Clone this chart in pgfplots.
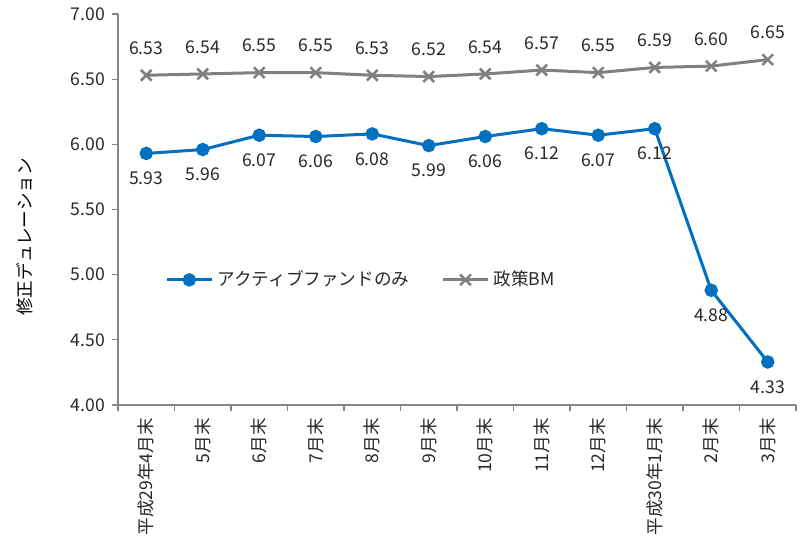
\documentclass[border=0pt]{standalone}
\usepackage{pgfplots}
\pgfplotsset{compat=1.18}
\usepackage{fontspec}
\setmainfont{Noto Sans CJK JP}
\definecolor{sblue}{RGB}{0,112,192}
\definecolor{sgray}{RGB}{128,128,128}
\definecolor{axgray}{RGB}{134,134,134}
\definecolor{txt}{RGB}{40,40,40}
\begin{document}
\begin{tikzpicture}
\begin{axis}[
  scale only axis, width=339pt, height=195.5pt,
  xmin=-0.5, xmax=11.5, ymin=4, ymax=7,
  axis x line*=bottom, axis y line*=left,
  axis line style={axgray, line width=0.6pt, -},
  tick align=outside,
  every tick/.style={axgray, line width=0.6pt},
  major tick length=3pt, minor tick length=3pt,
  ytick={4,4.5,5,5.5,6,6.5,7},
  yticklabel style={/pgf/number format/.cd, fixed, fixed zerofill, precision=2},
  /pgf/number format/assume math mode=true,
  xtick={0,...,11},
  xticklabels={平成29年4月末,5月末,6月末,7月末,8月末,9月末,10月末,11月末,12月末,平成30年1月末,2月末,3月末},
  xticklabel style={rotate=90, anchor=east},
  major x tick style={draw=none},
  minor xtick={-0.5,0.5,...,11.5},
  tick label style={font=\fontsize{8.8}{10}\selectfont, text=txt},
  ylabel={修正デュレーション},
  ylabel style={font=\fontsize{8.8}{10}\selectfont, text=black, at={(axis description cs:-0.115,0.43)}, anchor=south},
  nodes near coords={\pgfmathprintnumber[fixed,fixed zerofill,precision=2]{\pgfplotspointmeta}},
  legend style={at={(axis cs:0.22,4.96)}, anchor=west, draw=none, fill=none,
    font=\fontsize{8.8}{10}\selectfont, text=txt,
    /tikz/every even column/.append style={column sep=14pt}},
  legend columns=2,
  legend image code/.code={\draw[mark repeat=2,mark phase=2] plot coordinates {(0cm,0cm) (0.4cm,0cm) (0.8cm,0cm)};},
  clip=false,
]
\addplot[sblue, line width=1.5pt, mark=*, mark size=2.6pt,
  every node near coord/.style={anchor=center, yshift=-12.5pt, text=txt, font=\fontsize{8.8}{10}\selectfont}]
  coordinates {(0,5.93) (1,5.96) (2,6.07) (3,6.06) (4,6.08) (5,5.99) (6,6.06) (7,6.12) (8,6.07) (9,6.12) (10,4.88) (11,4.33)};
\addlegendentry{アクティブファンドのみ}
\addplot[sgray, line width=1.5pt, mark=x, mark size=3.8pt, mark options={line width=1.3pt},
  every node near coord/.style={anchor=center, yshift=13.5pt, text=txt, font=\fontsize{8.8}{10}\selectfont}]
  coordinates {(0,6.53) (1,6.54) (2,6.55) (3,6.55) (4,6.53) (5,6.52) (6,6.54) (7,6.57) (8,6.55) (9,6.59) (10,6.60) (11,6.65)};
\addlegendentry{政策BM}
\coordinate (ll) at (rel axis cs:0,0);
\coordinate (ur) at (rel axis cs:1,1);
\end{axis}
\pgfresetboundingbox
\path[use as bounding box] ([shift={(-59pt,-70pt)}]ll) rectangle ([shift={(3pt,7pt)}]ur);
\end{tikzpicture}
\end{document}
